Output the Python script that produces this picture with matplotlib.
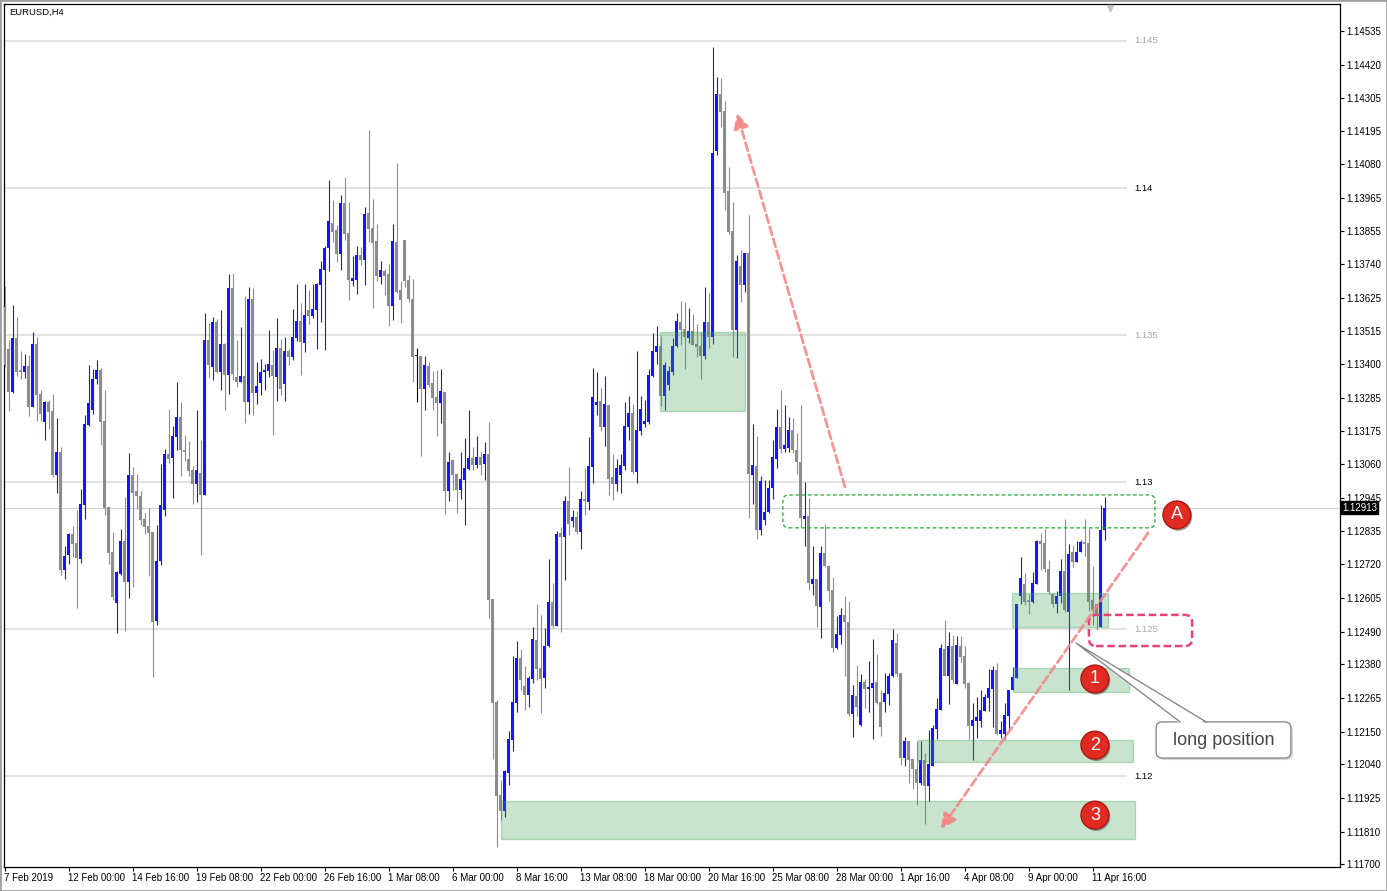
import numpy as np
import matplotlib.pyplot as plt
from matplotlib.patches import FancyBboxPatch, Rectangle, Polygon
from matplotlib import transforms

plt.rcParams['font.family'] = ['Liberation Sans', 'DejaVu Sans']

# EURUSD H4 bars, 7 Feb 2019 08:00 .. 12 Apr 2019 04:00
opens = [
    1.13596, 1.13452, 1.13307, 1.13489, 1.13381, 1.13375, 1.13394, 1.13256, 1.13469, 1.13299,
    1.13205, 1.13272, 1.13241, 1.13025, 1.13102, 1.12701, 1.12752, 1.12823, 1.12793, 1.12739,
    1.12922, 1.13194, 1.13245, 1.13349, 1.13381, 1.13207, 1.12914, 1.12762, 1.12588, 1.12687,
    1.12799, 1.12661, 1.13024, 1.12970, 1.12953, 1.12874, 1.12850, 1.12829, 1.12526, 1.12730,
    1.12905, 1.13095, 1.13082, 1.13153, 1.13221, 1.13109, 1.13078, 1.13041, 1.12993, 1.13031,
    1.12956, 1.13483, 1.13391, 1.13544, 1.13374, 1.13469, 1.13364, 1.13660, 1.13357, 1.13340,
    1.13361, 1.13272, 1.13622, 1.13303, 1.13337, 1.13374, 1.13377, 1.13398, 1.13357, 1.13456,
    1.13333, 1.13445, 1.13425, 1.13490, 1.13547, 1.13473, 1.13585, 1.13564, 1.13585, 1.13670,
    1.13721, 1.13796, 1.13881, 1.13857, 1.13776, 1.13949, 1.13847, 1.13683, 1.13687, 1.13772,
    1.13755, 1.13915, 1.13864, 1.13820, 1.13697, 1.13718, 1.13707, 1.13599, 1.13816, 1.13653,
    1.13823, 1.13687, 1.13622, 1.13428, 1.13428, 1.13316, 1.13394, 1.13337, 1.13289, 1.13269,
    1.13306, 1.12970, 1.13075, 1.13027, 1.12973, 1.13007, 1.13044, 1.13082, 1.13058, 1.13085,
    1.13061, 1.13095, 1.12602, 1.12252, 1.11936, 1.11881, 1.12011, 1.12123, 1.12249, 1.12402,
    1.12306, 1.12276, 1.12330, 1.12463, 1.12368, 1.12334, 1.12442, 1.12592, 1.12510, 1.12827,
    1.12813, 1.12935, 1.12867, 1.12881, 1.12830, 1.12942, 1.12932, 1.13051, 1.13262, 1.13275,
    1.13187, 1.13262, 1.13017, 1.12993, 1.13024, 1.13054, 1.13187, 1.13235, 1.13034, 1.13173,
    1.13197, 1.13204, 1.13360, 1.13442, 1.13462, 1.13292, 1.13330, 1.13374, 1.13462, 1.13544,
    1.13520, 1.13490, 1.13513, 1.13469, 1.13462, 1.13428, 1.13544, 1.13493, 1.14125, 1.14319,
    1.14262, 1.13990, 1.13854, 1.13517, 1.13735, 1.13670, 1.13779, 1.13024, 1.13054, 1.12837,
    1.12871, 1.12898, 1.12980, 1.13078, 1.13187, 1.13112, 1.13116, 1.13177, 1.13109, 1.13068,
    1.12874, 1.12884, 1.12653, 1.12670, 1.12575, 1.12759, 1.12714, 1.12633, 1.12436, 1.12480,
    1.12548, 1.12524, 1.12211, 1.12272, 1.12174, 1.12320, 1.12296, 1.12300, 1.12320, 1.12252,
    1.12252, 1.12279, 1.12340, 1.12453, 1.12350, 1.12062, 1.12120, 1.12058, 1.12024, 1.11977,
    1.12055, 1.11966, 1.12034, 1.12160, 1.12225, 1.12432, 1.12340, 1.12442, 1.12313, 1.12442,
    1.12408, 1.12317, 1.12170, 1.12187, 1.12187, 1.12221, 1.12265, 1.12296, 1.12361, 1.12143,
    1.12143, 1.12204, 1.12293, 1.12333, 1.12612, 1.12653, 1.12599, 1.12592, 1.12653, 1.12799,
    1.12793, 1.12704, 1.12619, 1.12585, 1.12612, 1.12697, 1.12558, 1.12762, 1.12728, 1.12762,
    1.12796, 1.12793, 1.12599, 1.12585, 1.12507, 1.12837]
highs = [
    1.13666, 1.13483, 1.13602, 1.13562, 1.13445, 1.13435, 1.13432, 1.13510, 1.13494, 1.13313,
    1.13277, 1.13279, 1.13299, 1.13218, 1.13120, 1.12782, 1.12828, 1.12850, 1.12905, 1.12976,
    1.13228, 1.13398, 1.13384, 1.13415, 1.13388, 1.13313, 1.12914, 1.12830, 1.12697, 1.12840,
    1.12949, 1.13099, 1.13051, 1.13027, 1.12969, 1.12895, 1.12912, 1.12829, 1.12854, 1.13061,
    1.13112, 1.13248, 1.13190, 1.13340, 1.13272, 1.13160, 1.13139, 1.13054, 1.13245, 1.13143,
    1.13575, 1.13541, 1.13561, 1.13554, 1.13585, 1.13473, 1.13707, 1.13711, 1.13483, 1.13527,
    1.13632, 1.13663, 1.13660, 1.13408, 1.13418, 1.13401, 1.13517, 1.13449, 1.13558, 1.13486,
    1.13493, 1.13452, 1.13588, 1.13673, 1.13609, 1.13673, 1.13653, 1.13673, 1.13677, 1.13751,
    1.13802, 1.14027, 1.13959, 1.13874, 1.13976, 1.14037, 1.13952, 1.13768, 1.13802, 1.13799,
    1.13935, 1.14197, 1.13962, 1.13878, 1.13752, 1.13724, 1.13741, 1.13878, 1.14085, 1.13684,
    1.13823, 1.13704, 1.13690, 1.13456, 1.13428, 1.13428, 1.13408, 1.13377, 1.13381, 1.13384,
    1.13306, 1.13102, 1.13078, 1.13030, 1.13102, 1.13150, 1.13245, 1.13119, 1.13156, 1.13102,
    1.13136, 1.13204, 1.12602, 1.12259, 1.11987, 1.12021, 1.12153, 1.12408, 1.12459, 1.12432,
    1.12374, 1.12340, 1.12507, 1.12585, 1.12548, 1.12504, 1.12738, 1.12657, 1.12833, 1.12847,
    1.12952, 1.13051, 1.12905, 1.12901, 1.12969, 1.13048, 1.13153, 1.13388, 1.13374, 1.13320,
    1.13360, 1.13262, 1.13095, 1.13078, 1.13095, 1.13272, 1.13292, 1.13265, 1.13445, 1.13292,
    1.13279, 1.13384, 1.13507, 1.13530, 1.13497, 1.13408, 1.13394, 1.13490, 1.13575, 1.13615,
    1.13612, 1.13592, 1.13571, 1.13537, 1.13510, 1.13663, 1.13643, 1.14479, 1.14377, 1.14374,
    1.14296, 1.14071, 1.13952, 1.13772, 1.13789, 1.13779, 1.13908, 1.13197, 1.13156, 1.13020,
    1.13007, 1.13007, 1.13143, 1.13248, 1.13313, 1.13262, 1.13221, 1.13218, 1.13167, 1.13262,
    1.13000, 1.12946, 1.12782, 1.12670, 1.12782, 1.12857, 1.12718, 1.12677, 1.12544, 1.12572,
    1.12612, 1.12595, 1.12310, 1.12378, 1.12347, 1.12330, 1.12391, 1.12466, 1.12415, 1.12293,
    1.12350, 1.12350, 1.12500, 1.12487, 1.12350, 1.12133, 1.12120, 1.12058, 1.12120, 1.12120,
    1.12079, 1.12157, 1.12174, 1.12265, 1.12449, 1.12531, 1.12490, 1.12480, 1.12476, 1.12476,
    1.12442, 1.12320, 1.12249, 1.12269, 1.12293, 1.12279, 1.12364, 1.12374, 1.12384, 1.12187,
    1.12249, 1.12293, 1.12371, 1.12585, 1.12745, 1.12691, 1.12619, 1.12694, 1.12803, 1.12827,
    1.12840, 1.12735, 1.12619, 1.12629, 1.12738, 1.12874, 1.12789, 1.12786, 1.12799, 1.12803,
    1.12874, 1.12844, 1.12714, 1.12585, 1.12922, 1.12949]
lows = [
    1.13391, 1.13243, 1.13304, 1.13360, 1.13350, 1.13355, 1.13225, 1.13254, 1.13208, 1.13208,
    1.13143, 1.13180, 1.13018, 1.12964, 1.12684, 1.12670, 1.12721, 1.12746, 1.12573, 1.12726,
    1.12873, 1.13190, 1.13231, 1.13333, 1.13126, 1.12888, 1.12721, 1.12599, 1.12488, 1.12684,
    1.12494, 1.12607, 1.12644, 1.12907, 1.12854, 1.12824, 1.12681, 1.12338, 1.12515, 1.12718,
    1.12884, 1.13065, 1.12946, 1.13109, 1.13020, 1.13071, 1.13020, 1.12925, 1.12932, 1.12752,
    1.12956, 1.13354, 1.13347, 1.13370, 1.13313, 1.13245, 1.13299, 1.13347, 1.13323, 1.13340,
    1.13201, 1.13231, 1.13228, 1.13265, 1.13296, 1.13313, 1.13357, 1.13160, 1.13275, 1.13296,
    1.13275, 1.13398, 1.13415, 1.13479, 1.13364, 1.13442, 1.13537, 1.13558, 1.13452, 1.13544,
    1.13449, 1.13717, 1.13816, 1.13748, 1.13721, 1.13823, 1.13619, 1.13666, 1.13639, 1.13738,
    1.13670, 1.13816, 1.13592, 1.13683, 1.13673, 1.13636, 1.13530, 1.13551, 1.13643, 1.13540,
    1.13663, 1.13612, 1.13340, 1.13272, 1.13088, 1.13245, 1.13323, 1.13245, 1.13156, 1.13201,
    1.12892, 1.12936, 1.12973, 1.12895, 1.12942, 1.12854, 1.13041, 1.13041, 1.13048, 1.13024,
    1.13007, 1.12538, 1.12058, 1.11760, 1.11851, 1.11862, 1.11970, 1.12085, 1.12218, 1.12293,
    1.12225, 1.12235, 1.12317, 1.12327, 1.12215, 1.12299, 1.12439, 1.12504, 1.12510, 1.12490,
    1.12667, 1.12820, 1.12847, 1.12823, 1.12772, 1.12888, 1.12905, 1.12997, 1.13228, 1.13173,
    1.13122, 1.12956, 1.12939, 1.12969, 1.12963, 1.13041, 1.13143, 1.13027, 1.12997, 1.13160,
    1.13187, 1.13197, 1.13357, 1.13401, 1.13258, 1.13245, 1.13313, 1.13364, 1.13459, 1.13466,
    1.13384, 1.13473, 1.13466, 1.13425, 1.13350, 1.13418, 1.13456, 1.13469, 1.14112, 1.14207,
    1.13925, 1.13843, 1.13425, 1.13422, 1.13612, 1.13646, 1.12878, 1.12925, 1.12806, 1.12820,
    1.12854, 1.12895, 1.12942, 1.13048, 1.13099, 1.13102, 1.13102, 1.13099, 1.13027, 1.12847,
    1.12782, 1.12633, 1.12616, 1.12507, 1.12470, 1.12711, 1.12595, 1.12422, 1.12432, 1.12449,
    1.12340, 1.12204, 1.12133, 1.12204, 1.12170, 1.12231, 1.12218, 1.12126, 1.12245, 1.12136,
    1.12218, 1.12242, 1.12337, 1.12337, 1.12038, 1.12034, 1.11977, 1.11956, 1.11902, 1.11969,
    1.11837, 1.11915, 1.12034, 1.12126, 1.12225, 1.12340, 1.12245, 1.12317, 1.12313, 1.12388,
    1.12300, 1.12126, 1.12055, 1.12129, 1.12167, 1.12221, 1.12221, 1.12167, 1.12139, 1.12129,
    1.12126, 1.12156, 1.12293, 1.12333, 1.12585, 1.12582, 1.12551, 1.12588, 1.12653, 1.12701,
    1.12694, 1.12619, 1.12575, 1.12554, 1.12588, 1.12558, 1.12293, 1.12711, 1.12728, 1.12762,
    1.12748, 1.12561, 1.12514, 1.12497, 1.12507, 1.12803]
closes = [
    1.13398, 1.13307, 1.13489, 1.13375, 1.13375, 1.13394, 1.13256, 1.13469, 1.13296, 1.13231,
    1.13272, 1.13239, 1.13024, 1.13102, 1.12701, 1.12748, 1.12823, 1.12789, 1.12742, 1.12925,
    1.13197, 1.13268, 1.13350, 1.13381, 1.13205, 1.12911, 1.12760, 1.12610, 1.12694, 1.12799,
    1.12661, 1.13024, 1.12964, 1.12953, 1.12872, 1.12848, 1.12828, 1.12525, 1.12731, 1.12922,
    1.13095, 1.13078, 1.13156, 1.13221, 1.13109, 1.13102, 1.13037, 1.12993, 1.13040, 1.12956,
    1.13483, 1.13398, 1.13544, 1.13374, 1.13469, 1.13364, 1.13660, 1.13367, 1.13340, 1.13361,
    1.13272, 1.13622, 1.13303, 1.13326, 1.13374, 1.13381, 1.13401, 1.13361, 1.13456, 1.13316,
    1.13445, 1.13425, 1.13493, 1.13547, 1.13476, 1.13568, 1.13564, 1.13588, 1.13673, 1.13724,
    1.13796, 1.13887, 1.13850, 1.13776, 1.13949, 1.13843, 1.13687, 1.13694, 1.13772, 1.13755,
    1.13911, 1.13860, 1.13813, 1.13700, 1.13721, 1.13700, 1.13599, 1.13820, 1.13646, 1.13619,
    1.13683, 1.13622, 1.13425, 1.13428, 1.13316, 1.13398, 1.13330, 1.13286, 1.13269, 1.13309,
    1.12970, 1.13068, 1.13024, 1.12973, 1.13010, 1.13048, 1.13082, 1.13058, 1.13085, 1.13058,
    1.13095, 1.12599, 1.12249, 1.11932, 1.11881, 1.12017, 1.12126, 1.12252, 1.12402, 1.12327,
    1.12276, 1.12334, 1.12466, 1.12364, 1.12330, 1.12442, 1.12592, 1.12510, 1.12823, 1.12813,
    1.12935, 1.12857, 1.12881, 1.12830, 1.12942, 1.12935, 1.13054, 1.13289, 1.13272, 1.13187,
    1.13265, 1.13010, 1.12993, 1.13048, 1.13058, 1.13190, 1.13235, 1.13034, 1.13177, 1.13248,
    1.13207, 1.13364, 1.13445, 1.13462, 1.13292, 1.13398, 1.13377, 1.13462, 1.13547, 1.13517,
    1.13493, 1.13513, 1.13466, 1.13459, 1.13428, 1.13544, 1.13493, 1.14119, 1.14319, 1.14258,
    1.13983, 1.13850, 1.13517, 1.13752, 1.13670, 1.13779, 1.13027, 1.13058, 1.12837, 1.13003,
    1.12898, 1.12980, 1.13085, 1.13187, 1.13112, 1.13126, 1.13177, 1.13109, 1.13068, 1.12878,
    1.12884, 1.12657, 1.12670, 1.12578, 1.12759, 1.12714, 1.12629, 1.12436, 1.12483, 1.12548,
    1.12524, 1.12211, 1.12276, 1.12235, 1.12320, 1.12296, 1.12303, 1.12317, 1.12249, 1.12167,
    1.12283, 1.12340, 1.12463, 1.12347, 1.12062, 1.12120, 1.12055, 1.12024, 1.11977, 1.12055,
    1.11966, 1.12041, 1.12163, 1.12228, 1.12435, 1.12340, 1.12442, 1.12327, 1.12446, 1.12405,
    1.12313, 1.12170, 1.12191, 1.12201, 1.12225, 1.12269, 1.12299, 1.12361, 1.12143, 1.12156,
    1.12208, 1.12293, 1.12337, 1.12585, 1.12674, 1.12592, 1.12592, 1.12657, 1.12799, 1.12789,
    1.12704, 1.12626, 1.12585, 1.12612, 1.12697, 1.12565, 1.12755, 1.12728, 1.12762, 1.12796,
    1.12789, 1.12592, 1.12565, 1.12544, 1.12837, 1.12913]

date_ticks = [0, 16, 32, 48, 64, 80, 96, 112, 128, 144, 160, 176, 192, 208, 224, 240, 256, 272]
date_labels = ['7 Feb 2019', '12 Feb 00:00', '14 Feb 16:00', '19 Feb 08:00', '22 Feb 00:00',
               '26 Feb 16:00', '1 Mar 08:00', '6 Mar 00:00', '8 Mar 16:00', '13 Mar 08:00',
               '18 Mar 00:00', '20 Mar 16:00', '25 Mar 08:00', '28 Mar 00:00', '1 Apr 16:00',
               '4 Apr 08:00', '9 Apr 00:00', '11 Apr 16:00']
price_ticks = [1.14535, 1.14420, 1.14305, 1.14195, 1.14080, 1.13965, 1.13855, 1.13740, 1.13625,
               1.13515, 1.13400, 1.13285, 1.13175, 1.13060, 1.12945, 1.12835, 1.12720, 1.12605,
               1.12490, 1.12380, 1.12265, 1.12150, 1.12040, 1.11925, 1.11810, 1.11700]
round_levels = [1.145, 1.14, 1.135, 1.13, 1.125, 1.12]
level_colors = ['#a8a8a8', 'black', '#a8a8a8', 'black', '#a8a8a8', 'black']
last_price = 1.12913

# green zones: first bar, last bar, low, high
zone_start = [163.9, 124.1, 228.4, 252.1, 251.9]
zone_end = [185.1, 282.6, 282.1, 281.1, 275.9]
zone_low = [1.13241, 1.11786, 1.12048, 1.12286, 1.12507]
zone_high = [1.13510, 1.11915, 1.12122, 1.12367, 1.12622]

# markers
marker_text = ['A', '1', '2', '3']
marker_bar = [293.1, 272.6, 272.6, 272.6]
marker_price = [1.12888, 1.12330, 1.12105, 1.11867]

fig = plt.figure(figsize=(13.87, 8.91), dpi=100)
ax = fig.add_axes([4 / 1387, 24 / 891, 1336 / 1387, 863 / 891])
ax.set_xlim(-0.125, 333.875)
ax.set_ylim(1.1169048, 1.1462585)

o, h, l, c = map(np.array, (opens, highs, lows, closes))
x = np.arange(len(o))
col = np.where(c > o, '#1414ff', np.where(c < o, '#8c8c8c', '#000000'))
ax.vlines(x, l, h, colors=col, lw=0.8, zorder=3)
body = np.maximum(np.abs(c - o), 0.00004)
ax.bar(x, body, bottom=np.minimum(o, c), width=0.75, color=col, lw=0, zorder=3)

# round number levels
for lv, lc in zip(round_levels, level_colors):
    ax.plot([-1, 280.4], [lv, lv], color='#e0e0e0', lw=1.3, zorder=1)
    ax.text(282.4, lv, f'{lv:g}', color=lc, fontsize=6.8, va='center', ha='left', zorder=2)
ax.axhline(last_price, color='#cfcfcf', lw=0.8, zorder=1)

for x0, x1, lo, hi in zip(zone_start, zone_end, zone_low, zone_high):
    ax.add_patch(Rectangle((x0, lo), x1 - x0, hi - lo, fc=(0.24, 0.63, 0.32, 0.28),
                           ec=(0.24, 0.63, 0.32, 0.35), lw=1, zorder=4))

asp = 4 / 29400
ax.add_patch(FancyBboxPatch((194.6, 1.12844), 93.0, 0.00112,
                            boxstyle='round,pad=0,rounding_size=1.5', mutation_aspect=asp,
                            fill=False, ec='#22aa33', ls=(0, (3, 2)), lw=0.9, zorder=5))
ax.add_patch(FancyBboxPatch((271.1, 1.12442), 25.8, 0.00106,
                            boxstyle='round,pad=0,rounding_size=1.8', mutation_aspect=asp,
                            fill=False, ec='#e8407a', ls=(0, (3, 1.5)), lw=1.8, zorder=5))

# dashed arrows
arrow = dict(arrowstyle='-|>,head_length=0.9,head_width=0.45', color='#f48484', lw=2,
             ls=(0, (3, 1.5)), shrinkA=0, shrinkB=0, alpha=0.85)
ax.annotate('', xy=(183.1, 1.14255), xytext=(210.1, 1.12983), arrowprops=arrow, zorder=6)
ax.annotate('', xy=(234.1, 1.11820), xytext=(285.9, 1.12827), arrowprops=arrow, zorder=6)

# numbered circles
shadow = transforms.offset_copy(ax.transData, fig=fig, x=1.5, y=-2, units='dots')
for t, bx, py in zip(marker_text, marker_bar, marker_price):
    ax.text(bx, py, t, transform=shadow, ha='center', va='center', color='none', fontsize=13,
            bbox=dict(boxstyle='circle,pad=0.3', fc=(0, 0, 0, 0.35), ec='none'), zorder=7)
    ax.text(bx, py, t, ha='center', va='center', color='white', fontsize=13,
            bbox=dict(boxstyle='circle,pad=0.3', fc='#e02a22', ec='#a81810', lw=1), zorder=8)

# callout
box_shadow = transforms.offset_copy(ax.transData, fig=fig, x=2, y=-2, units='dots')
ax.add_patch(FancyBboxPatch((287.9, 1.12061), 33.7, 0.00123,
                            boxstyle='round,pad=0,rounding_size=1.5', mutation_aspect=asp,
                            fc=(0, 0, 0, 0.15), ec='none', transform=box_shadow, zorder=8))
ax.add_patch(FancyBboxPatch((287.9, 1.12061), 33.7, 0.00123,
                            boxstyle='round,pad=0,rounding_size=1.5', mutation_aspect=asp,
                            fc='white', ec='#8a8a8a', lw=1, zorder=9))
ax.add_patch(Polygon([[267.9, 1.12452], [293.9, 1.12178], [300.4, 1.12178]],
                     closed=True, fc='white', ec='none', zorder=10))
ax.plot([293.9, 267.9, 300.4], [1.12184, 1.12452, 1.12184], color='#8a8a8a', lw=1, zorder=10)
ax.text(304.8, 1.12122, 'long position', ha='center', va='center', fontsize=13,
        color='#464646', zorder=11)

ax.plot([276.4], [1.14612], marker='v', color='#c0c0c0', ms=4, clip_on=False, zorder=6)

ax.yaxis.tick_right()
ax.set_yticks(price_ticks)
ax.set_yticklabels([f'{v:.5f}' for v in price_ticks])
ax.tick_params(axis='y', length=3, width=0.8, pad=1.5, labelsize=7)
ax.set_xticks(date_ticks)
ax.set_xticklabels(date_labels, ha='left')
ax.tick_params(axis='x', length=3, width=0.8, pad=1.5, labelsize=7)
for s in ax.spines.values():
    s.set_color('black')
    s.set_linewidth(0.9)

tr = transforms.blended_transform_factory(ax.transAxes, ax.transData)
ax.text(1.0 + 2 / 1336, last_price, f'{last_price:.5f}', transform=tr, ha='left', va='center',
        color='white', fontsize=7, bbox=dict(boxstyle='square,pad=0.15', fc='black', ec='black'),
        zorder=12)

fig.text(9 / 1387, 1 - 12 / 891, 'EURUSD,H4', fontsize=6.8, va='center', ha='left')
fig.patches.append(Rectangle((0, 0), 1, 1, transform=fig.transFigure, fill=False,
                             ec='#a0a0a0', lw=2))

fig.savefig('out.png', dpi=100)
